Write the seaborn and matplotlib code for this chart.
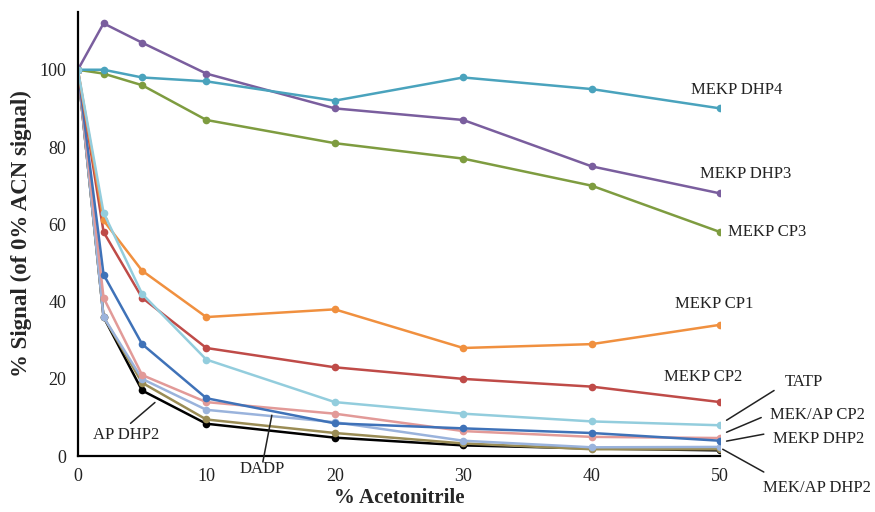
import pandas as pd
import matplotlib
matplotlib.use('Agg')
import matplotlib.pyplot as plt
import seaborn as sns

# % acetonitrile na fase móvel
acn = [0, 2, 5, 10, 20, 30, 40, 50]

# sinal relativo (% do sinal a 0% ACN)
mekp_dhp4 = [100, 100, 98, 97, 92, 98, 95, 90]
mekp_dhp3 = [100, 112, 107, 99, 90, 87, 75, 68]
mekp_cp3 = [100, 99, 96, 87, 81, 77, 70, 58]
mekp_cp1 = [100, 61, 48, 36, 38, 28, 29, 34]
mekp_cp2 = [100, 58, 41, 28, 23, 20, 18, 14]
tatp = [100, 63, 42, 25, 14, 11, 9, 8]
mekp_dhp2 = [100, 47, 29, 15, 8.5, 7.2, 6, 4]
mekap_cp2 = [100, 41, 21, 14, 11, 6.5, 5, 4.7]
dadp = [100, 36, 20, 12, 8.8, 4, 2.3, 2.4]
mekap_dhp2 = [100, 36, 19, 9.5, 6, 3.3, 1.8, 1.8]
ap_dhp2 = [100, 36, 17, 8.4, 4.8, 2.8, 2, 1.5]

# ordem de desenho: TATP por último (fica por cima perto de 0% ACN)
series = {
    'AP DHP2': ap_dhp2,
    'MEK/AP DHP2': mekap_dhp2,
    'DADP': dadp,
    'MEK/AP CP2': mekap_cp2,
    'MEKP DHP2': mekp_dhp2,
    'MEKP CP2': mekp_cp2,
    'MEKP CP1': mekp_cp1,
    'MEKP CP3': mekp_cp3,
    'MEKP DHP3': mekp_dhp3,
    'MEKP DHP4': mekp_dhp4,
    'TATP': tatp,
}

colors = {
    'MEKP DHP4': '#4AA3BD',
    'MEKP DHP3': '#7A5E9E',
    'MEKP CP3': '#7E9C40',
    'MEKP CP1': '#F0903F',
    'MEKP CP2': '#BF4B48',
    'TATP': '#93CDDD',
    'MEKP DHP2': '#3F72B8',
    'MEK/AP CP2': '#E29A98',
    'DADP': '#9AB3DC',
    'MEK/AP DHP2': '#9A8C55',
    'AP DHP2': '#000000',
}

rows = []
for name, vals in series.items():
    for x, y in zip(acn, vals):
        rows.append({'ACN': x, 'Signal': y, 'Serie': name})
df = pd.DataFrame(rows)

sns.set_style('white')
plt.rcParams['font.family'] = ['Liberation Serif', 'DejaVu Serif']

fig = plt.figure(figsize=(8.75, 5.12), dpi=100)
ax = fig.add_axes([0.089, 0.109, 0.734, 0.868])

sns.lineplot(data=df, x='ACN', y='Signal', hue='Serie', hue_order=list(series.keys()),
             palette=colors, marker='o', markersize=5.5, linewidth=1.8,
             markeredgewidth=0, legend=False, ax=ax)

ax.set_xlim(0, 50)
ax.set_ylim(0, 115)
ax.set_xticks([0, 10, 20, 30, 40, 50])
ax.set_yticks([0, 20, 40, 60, 80, 100])
ax.tick_params(direction='out', length=5, width=1.2, labelsize=13, colors='#222222')
for s in ['top', 'right']:
    ax.spines[s].set_visible(False)
for s in ['left', 'bottom']:
    ax.spines[s].set_color('black')
    ax.spines[s].set_linewidth(1.6)

ax.set_xlabel('% Acetonitrile', fontsize=15, fontweight='bold', labelpad=2)
ax.set_ylabel('% Signal (of 0% ACN signal)', fontsize=16.5, fontweight='bold', labelpad=5)

# rótulos sem linha guia
ax.text(51.3, 94.8, 'MEKP DHP4', fontsize=12, ha='center', va='center', color='#222222')
ax.text(52.0, 72.9, 'MEKP DHP3', fontsize=12, ha='center', va='center', color='#222222')
ax.text(50.6, 58, 'MEKP CP3', fontsize=12, ha='left', va='center', color='#222222')
ax.text(49.5, 39.4, 'MEKP CP1', fontsize=12, ha='center', va='center', color='#222222')
ax.text(48.7, 20.6, 'MEKP CP2', fontsize=12, ha='center', va='center', color='#222222')

# rótulos com linha guia
arrow = dict(arrowstyle='-', color='#222222', lw=1.1, shrinkA=0, shrinkB=0)
guides = [
    ('TATP', (50.5, 9.3), (54.2, 17), (56.5, 19.1)),
    ('MEK/AP CP2', (50.5, 6.2), (53.2, 10), (57.6, 10.6)),
    ('MEKP DHP2', (50.5, 3.9), (53.4, 5.7), (57.7, 4.4)),
    ('MEK/AP DHP2', (50.2, 1.8), (53.4, -4.1), (57.5, -8.2)),
    ('AP DHP2', (6.0, 13.9), (4.1, 8.5), (3.75, 5.4)),
    ('DADP', (15.1, 10.6), (14.4, -1.5), (14.35, -3.4)),
]
for label, tip, end, pos in guides:
    ax.annotate('', xy=tip, xytext=end, arrowprops=arrow, annotation_clip=False)
    ax.text(pos[0], pos[1], label, fontsize=12, ha='center', va='center',
            color='#222222', clip_on=False)

plt.savefig('out.png', dpi=100)
